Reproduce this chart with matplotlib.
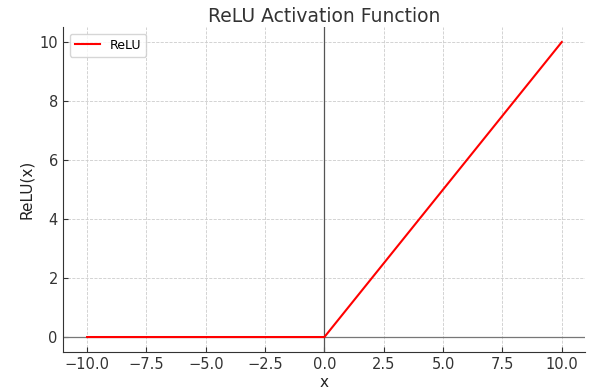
import matplotlib
matplotlib.use("Agg")
import matplotlib.pyplot as plt

# data
x_vals = [-10.0, 0.0, 10.0]
relu_vals = [0.0, 0.0, 10.0]

fig, ax = plt.subplots(figsize=(6.15, 3.9), dpi=100)
fig.subplots_adjust(left=0.103, right=0.952, top=0.93, bottom=0.098)

ax.grid(True, linestyle='--', color='#cccccc', linewidth=0.6, zorder=0)
ax.axhline(0, color='#777777', linewidth=0.9, zorder=2)
ax.axvline(0, color='#555555', linewidth=0.9, zorder=2)
ax.plot(x_vals, relu_vals, color='red', linewidth=1.5, label='ReLU', zorder=3)

ax.set_title('ReLU Activation Function', fontsize=13.5, color='#333333', pad=4)
ax.set_xlabel('x', fontsize=11, color='#222222', labelpad=2)
ax.set_ylabel('ReLU(x)', fontsize=11, color='#222222', labelpad=4)

ax.spines['top'].set_visible(False)
ax.spines['right'].set_visible(False)
for s in ('left', 'bottom'):
    ax.spines[s].set_color('#333333')
ax.tick_params(labelsize=10.5, colors='#333333', direction='in', length=3.5, pad=4)

ax.legend(loc='upper left', fontsize=9, framealpha=0.8)

fig.savefig('out.png')
